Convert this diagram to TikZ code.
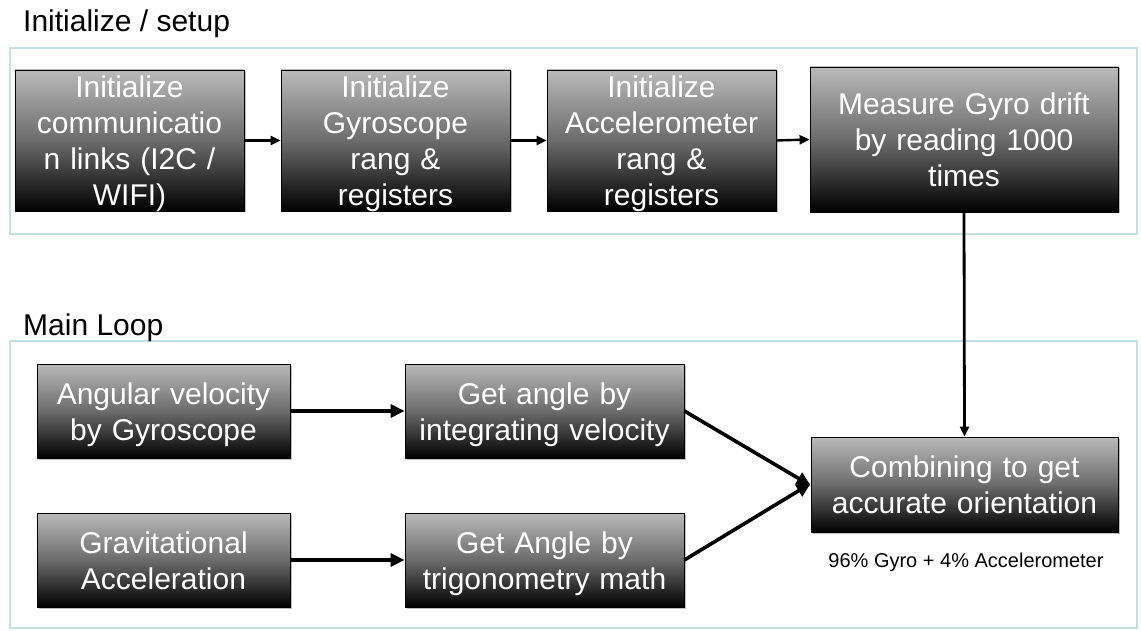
\documentclass[tikz,border=0pt]{standalone}
\usepackage{fontspec}
\setmainfont{Liberation Sans}
\usetikzlibrary{arrows.meta,shadows}
\definecolor{framec}{RGB}{197,224,228}
\newcommand\firstln[1]{\rule{0pt}{22pt}\smash{#1}}
\newcommand\nextln[1]{\smash{#1}}
\tikzset{
  frame/.style={draw=framec, line width=2.6pt},
  gbox/.style={draw=black, line width=0.8pt, top color=black!27, bottom color=black,
    middle color=black!58, text=white, inner sep=0pt, align=center,
    font=\fontsize{30}{36}\selectfont,
    drop shadow={shadow xshift=1.5pt, shadow yshift=-1.5pt, opacity=0.25, fill=black}},
  title/.style={anchor=base west, inner sep=0pt, font=\fontsize{30}{34}\selectfont},
  thin arrow/.style={draw=black, line width=2.4pt, -{Triangle[length=10pt,width=9pt]}},
  thick arrow/.style={draw=black, line width=4.2pt, -{Triangle[length=14pt,width=13pt]}},
}
\begin{document}
\begin{tikzpicture}[x=1pt,y=-1pt]
\useasboundingbox (0,0) rectangle (1141,631);
\fill[white] (0,0) rectangle (1141,631);
% frames
\draw[frame] (10,48) rectangle (1137,234);
\draw[frame] (10,341) rectangle (1137,628);
\node[title] (t1) at (23,32) {Initialize / setup};
\node[title] (t2) at (23,335) {Main Loop};
% top row
\node[gbox, minimum width=229pt, minimum height=141pt, text width=229pt] (b1) at (129.5,140.5)
  {\firstln{Initialize}\\\nextln{communicatio}\\\nextln{n links (I2C /}\\\nextln{WIFI)}};
\node[gbox, minimum width=229pt, minimum height=141pt, text width=229pt] (b2) at (395.5,140.5)
  {\firstln{Initialize}\\\nextln{Gyroscope}\\\nextln{rang \&}\\\nextln{registers}};
\node[gbox, minimum width=229pt, minimum height=141pt, text width=229pt] (b3) at (661.5,140.5)
  {\firstln{Initialize}\\\nextln{Accelerometer}\\\nextln{rang \&}\\\nextln{registers}};
\node[gbox, minimum width=308pt, minimum height=145pt, text width=308pt] (b4) at (964,139.5)
  {\firstln{Measure Gyro drift}\\\nextln{by reading 1000}\\\nextln{times}};
% main loop
\node[gbox, minimum width=253pt, minimum height=94pt, text width=253pt] (a) at (163.5,411)
  {\firstln{Angular velocity}\\\nextln{by Gyroscope}};
\node[gbox, minimum width=279pt, minimum height=94pt, text width=279pt] (b) at (544.5,411)
  {\firstln{Get angle by}\\\nextln{integrating velocity}};
\node[gbox, minimum width=253pt, minimum height=94pt, text width=253pt] (c) at (163.5,560)
  {\firstln{Gravitational}\\\nextln{Acceleration}};
\node[gbox, minimum width=279pt, minimum height=94pt, text width=279pt] (d) at (544.5,560)
  {\firstln{Get Angle by}\\\nextln{trigonometry math}};
\node[gbox, minimum width=307pt, minimum height=95pt, text width=307pt] (e) at (964.5,484.5)
  {\firstln{Combining to get}\\\nextln{accurate orientation}};
\node[inner sep=0pt, font=\fontsize{20}{24}\selectfont] (note) at (966,562)
  {96\% Gyro + 4\% Accelerometer};
% connectors
\draw[thin arrow] (b1.east) -- (b2.west);
\draw[thin arrow] (b2.east) -- (b3.west);
\draw[thin arrow] (b3.east) -- (b4.west);
\draw[thin arrow, line width=2.8pt] (b4.south) -- (e.north);
\draw[thick arrow] (a.east) -- (b.west);
\draw[thick arrow] (c.east) -- (d.west);
\draw[thick arrow, line width=3.6pt] (b.east) -- ([yshift=-1pt]e.west);
\draw[thick arrow, line width=3.6pt] (d.east) -- ([yshift=1pt]e.west);
\end{tikzpicture}
\end{document}
